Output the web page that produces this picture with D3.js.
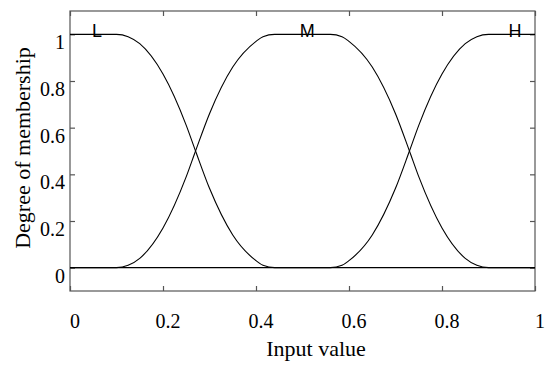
<!DOCTYPE html>
<html>
<head>
<meta charset="utf-8">
<script src="https://cdn.jsdelivr.net/npm/d3@7"></script>
<style>
    body { margin: 0; background: #fff; }
    .tick-label { font-family: "Liberation Serif", "Times New Roman", serif; font-size: 20px; fill: #000; }
    .axis-title { font-family: "Liberation Serif", "Times New Roman", serif; font-size: 22px; fill: #000; }
    .set-name { font-family: "Liberation Sans", Arial, sans-serif; font-size: 18px; fill: #000; }
</style>
</head>
<body>
<div id="chart"></div>
<script>
    // Input values where the membership curves were read
    const inputs = [0, 0.1, 0.125, 0.15, 0.2, 0.25, 0.27, 0.3, 0.35, 0.4, 0.415, 0.44, 0.5,
        0.56, 0.585, 0.6, 0.65, 0.7, 0.73, 0.75, 0.8, 0.85, 0.875, 0.9, 1];

    // Degree of membership for each fuzzy set
    const lowValues = [1, 1, 0.99, 0.96, 0.83, 0.61, 0.5, 0.34, 0.14, 0.03, 0.01, 0, 0,
        0, 0, 0, 0, 0, 0, 0, 0, 0, 0, 0, 0];
    const mediumValues = [0, 0, 0.01, 0.04, 0.17, 0.39, 0.5, 0.66, 0.86, 0.97, 0.99, 1, 1,
        1, 0.99, 0.97, 0.86, 0.66, 0.5, 0.39, 0.17, 0.04, 0.01, 0, 0];
    const highValues = [0, 0, 0, 0, 0, 0, 0, 0, 0, 0, 0, 0, 0,
        0, 0.01, 0.03, 0.14, 0.34, 0.5, 0.61, 0.83, 0.96, 0.99, 1, 1];

    const setNames = ["L", "M", "H"];
    const setLabelX = [0.058, 0.51, 0.957];

    const xTicks = [0, 0.2, 0.4, 0.6, 0.8, 1];
    const yTicks = [0, 0.2, 0.4, 0.6, 0.8, 1];

    const WIDTH = 550;
    const HEIGHT = 367;
    const MARGIN = { top: 11, right: 15, bottom: 76, left: 70 };
    const PLOT_W = WIDTH - MARGIN.left - MARGIN.right;
    const PLOT_H = HEIGHT - MARGIN.top - MARGIN.bottom;

    const svgContainer = d3.select("#chart")
        .append("svg")
        .attr("width", WIDTH)
        .attr("height", HEIGHT);

    const svg = svgContainer.append("g")
        .attr("transform", `translate(${MARGIN.left},${MARGIN.top})`);

    let xScale = d3.scaleLinear().domain([0, 1]).range([0, PLOT_W]);
    let yScale = d3.scaleLinear().domain([-0.1, 1.1]).range([PLOT_H, 0]);

    // Axes box with inward ticks on all four sides (matlab style)
    const tickLen = 5;
    const axisColor = "#555";
    svg.append("rect")
        .attr("x", 0).attr("y", 0)
        .attr("width", PLOT_W).attr("height", PLOT_H)
        .attr("fill", "none")
        .attr("stroke", axisColor)
        .attr("stroke-width", 1.2);

    const axisBottom = svg.append("g")
        .attr("transform", `translate(0,${PLOT_H})`)
        .call(d3.axisBottom(xScale).tickValues(xTicks).tickSize(-tickLen).tickFormat(""));
    const axisTop = svg.append("g")
        .call(d3.axisTop(xScale).tickValues(xTicks).tickSize(-tickLen).tickFormat(""));
    const axisLeft = svg.append("g")
        .call(d3.axisLeft(yScale).tickValues(yTicks).tickSize(-tickLen).tickFormat(""));
    const axisRight = svg.append("g")
        .attr("transform", `translate(${PLOT_W},0)`)
        .call(d3.axisRight(yScale).tickValues(yTicks).tickSize(-tickLen).tickFormat(""));

    [axisBottom, axisTop, axisLeft, axisRight].forEach((g) => {
        g.select(".domain").remove();
        g.selectAll("line").attr("stroke", axisColor).attr("stroke-width", 1.2);
    });

    // Tick labels
    svg.append("g")
        .selectAll("text")
        .data(xTicks)
        .enter()
        .append("text")
        .classed("tick-label", true)
        .attr("x", d => xScale(d) + 5)
        .attr("y", PLOT_H + 37)
        .attr("text-anchor", "middle")
        .text(d => d3.format("~g")(d));

    svg.append("g")
        .selectAll("text")
        .data(yTicks)
        .enter()
        .append("text")
        .classed("tick-label", true)
        .attr("x", -5)
        .attr("y", d => yScale(d) + 15)
        .attr("text-anchor", "end")
        .text(d => d3.format("~g")(d));

    // Axis titles
    svg.append("text")
        .classed("axis-title", true)
        .attr("x", 316 - MARGIN.left)
        .attr("y", 356 - MARGIN.top)
        .attr("text-anchor", "middle")
        .text("Input value");

    svg.append("text")
        .classed("axis-title", true)
        .attr("text-anchor", "middle")
        .attr("transform", `translate(${30 - MARGIN.left},${148 - MARGIN.top})rotate(-90)`)
        .text("Degree of membership");

    // Membership curves
    const series = [lowValues, mediumValues, highValues];
    const line = d3.line()
        .x((d, i) => xScale(inputs[i]))
        .y(d => yScale(d))
        .curve(d3.curveMonotoneX);

    svg.append("g")
        .selectAll("path")
        .data(series)
        .enter()
        .append("path")
        .attr("d", d => line(d))
        .attr("fill", "none")
        .attr("stroke", "#000")
        .attr("stroke-width", 1.1);

    // Set names sitting on the top of each curve
    svg.append("g")
        .selectAll("text")
        .data(setNames)
        .enter()
        .append("text")
        .classed("set-name", true)
        .attr("x", (d, i) => xScale(setLabelX[i]))
        .attr("y", yScale(1) + 3)
        .attr("text-anchor", "middle")
        .text(d => d);
</script>
</body>
</html>
